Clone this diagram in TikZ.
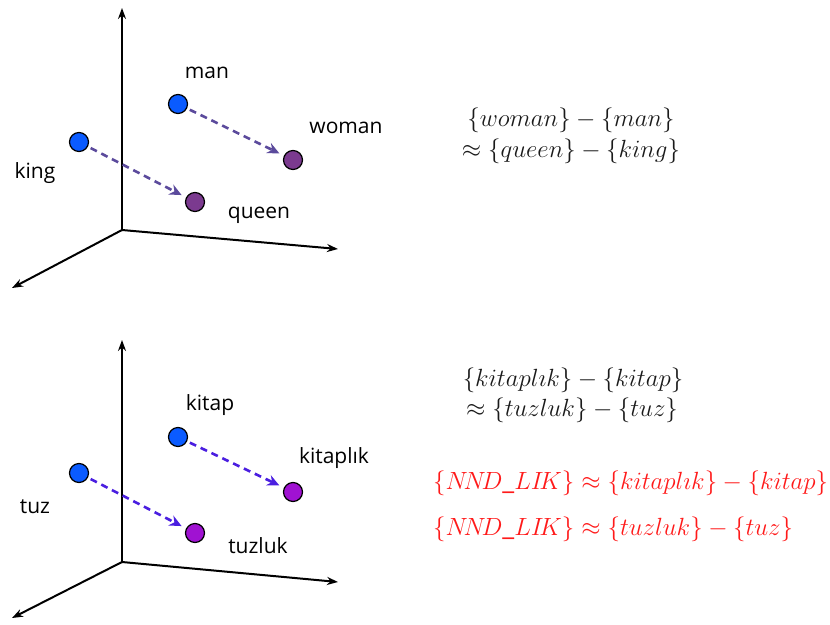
\documentclass[tikz,border=0pt]{standalone}
\usepackage{fontspec}
\setmainfont{Open Sans}
\usetikzlibrary{arrows.meta}
\definecolor{dotblue}{HTML}{0A5BFF}
\definecolor{topviolet}{HTML}{7B3A8F}
\definecolor{botviolet}{HTML}{A012D2}
\definecolor{toparrow}{HTML}{5B4A9C}
\definecolor{botarrow}{HTML}{4A1EE0}
\definecolor{eqred}{HTML}{FF1A1A}
\definecolor{eqblack}{HTML}{1A1A1A}
\tikzset{
  axis/.style={line width=2pt, -{Stealth[length=11pt,width=8pt]}},
  dot/.style={circle, draw=black, line width=1.2pt, minimum size=19pt, inner sep=0pt},
  lbl/.style={font=\fontsize{21}{25}\selectfont, text=black, inner sep=0pt},
  vec/.style={line width=2.6pt, dash pattern=on 7pt off 5pt, shorten <=3pt, shorten >=5pt, -{Stealth[length=12pt,width=11pt]}},
  eq/.style={font=\fontsize{26.5}{30}\selectfont, inner sep=0pt},
}
\begin{document}
\begin{tikzpicture}[x=1pt,y=-1pt]
\useasboundingbox (0,0) rectangle (830,624);
% ---------- top panel ----------
\coordinate (o1) at (122,230);
\coordinate (z1) at (122,8);
\coordinate (x1) at (338,249);
\coordinate (y1) at (12,288);
\draw[axis] (o1) -- (z1);
\draw[axis] (o1) -- (x1);
\draw[axis] (o1) -- (y1);
\node[dot, fill=dotblue] (man) at (178,104) {};
\node[dot, fill=topviolet] (woman) at (293,160) {};
\node[dot, fill=dotblue] (king) at (79,142) {};
\node[dot, fill=topviolet] (queen) at (195,202) {};
\draw[vec, toparrow] (man) -- (woman);
\draw[vec, toparrow] (king) -- (queen);
\node[lbl] (lman) at (207,73) {man};
\node[lbl] (lwoman) at (346,128) {woman};
\node[lbl] (lking) at (35,173) {king};
\node[lbl] (lqueen) at (259,215) {queen};
\node[eq, text=eqblack] (e1) at (571,120) {$\{woman\}-\{man\}$};
\node[eq, text=eqblack] (e2) at (571,151) {$\approx\{queen\}-\{king\}$};
% ---------- bottom panel ----------
\coordinate (o2) at (122,562);
\coordinate (z2) at (122,340);
\coordinate (x2) at (338,582);
\coordinate (y2) at (12,618);
\draw[axis] (o2) -- (z2);
\draw[axis] (o2) -- (x2);
\draw[axis] (o2) -- (y2);
\node[dot, fill=dotblue] (kitap) at (178,437) {};
\node[dot, fill=botviolet] (kitaplik) at (293,492) {};
\node[dot, fill=dotblue] (tuz) at (79,473) {};
\node[dot, fill=botviolet] (tuzluk) at (195,533) {};
\draw[vec, botarrow] (kitap) -- (kitaplik);
\draw[vec, botarrow] (tuz) -- (tuzluk);
\node[lbl] (lkitap) at (210,405) {kitap};
\node[lbl] (lkitaplik) at (334,458) {kitaplık};
\node[lbl] (ltuz) at (35,507) {tuz};
\node[lbl] (ltuzluk) at (258,546) {tuzluk};
\node[eq, text=eqblack] (e3) at (573,380) {$\{kitapl\imath k\}-\{kitap\}$};
\node[eq, text=eqblack] (e4) at (572,410) {$\approx\{tuzluk\}-\{tuz\}$};
\node[eq, text=eqred, anchor=west] (e5) at (433,483) {$\{N\!N\!D\_LI\!K\}\approx\{kitapl\imath k\}-\{kitap\}$};
\node[eq, text=eqred, anchor=west] (e6) at (433,529) {$\{N\!N\!D\_LI\!K\}\approx\{tuzluk\}-\{tuz\}$};
\end{tikzpicture}
\end{document}
